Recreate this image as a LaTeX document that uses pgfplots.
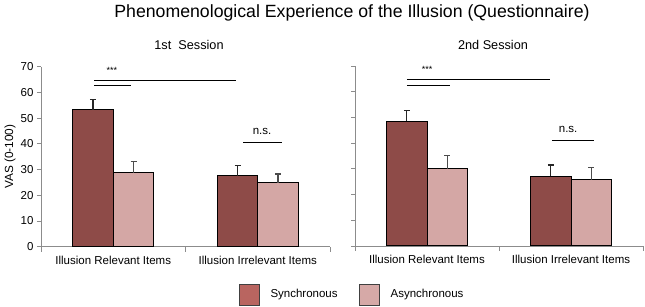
\documentclass[border=0pt]{standalone}
\usepackage{fontspec}
\setmainfont{Liberation Sans}
\usepackage{pgfplots}
\usepackage{pgfplotstable}
\pgfplotsset{compat=1.18}
\definecolor{syncc}{HTML}{8E4B48}
\definecolor{asyncc}{HTML}{D4A7A5}
\definecolor{syncleg}{HTML}{B96560}
\definecolor{asyncleg}{HTML}{D6A9A7}
\definecolor{axgray}{HTML}{8C8C8C}

% session 1
\pgfplotstableread{
x y e
0 53.2 4.1
1 27.6 3.9
}\sOneSync
\pgfplotstableread{
x y e
0 28.8 4.2
1 24.9 3.4
}\sOneAsync
% session 2
\pgfplotstableread{
x y e
0 48.6 4.0
1 27.1 4.4
}\sTwoSync
\pgfplotstableread{
x y e
0 30.0 5.1
1 25.8 4.7
}\sTwoAsync

\newcommand\lab{\fontsize{11.5bp}{13bp}\selectfont}

\pgfplotsset{
  panel/.style={
    scale only axis, width=289bp, height=180bp,
    ymin=0, ymax=70, xmin=-0.5, xmax=1.5,
    ytick={0,10,...,70},
    xtick={0,1},
    xticklabels={Illusion Relevant Items, Illusion Irrelevant Items},
    major x tick style={draw=none},
    extra x ticks={-0.5,0.5,1.5},
    extra x tick labels={},
    extra x tick style={major tick length=5bp, major x tick style={draw=axgray, line width=0.8bp}},
    axis x line*=bottom, axis y line*=left,
    axis line style={draw=axgray, line width=0.8bp},
    tick align=outside, major tick length=4bp,
    major y tick style={draw=axgray, line width=0.8bp},
    /pgf/number format/assume math mode=true,
    tick label style={font=\lab},
    xticklabel style={yshift=-2bp},
    ybar=0pt, bar width=40.5bp,
    clip=false,
  },
  syncbar/.style={fill=syncc, draw=black, line width=1bp, bar shift=-20.25bp,
    error bars/.cd, y dir=plus, y explicit,
    error bar style={line width=1.2bp, draw=black!85},
    error mark options={rotate=90, mark size=3bp, line width=1.2bp, draw=black!85},
    /pgfplots/.cd},
  asyncbar/.style={fill=asyncc, draw=black, line width=1bp, bar shift=20.25bp,
    error bars/.cd, y dir=plus, y explicit,
    error bar style={line width=1.2bp, draw=black!70},
    error mark options={rotate=90, mark size=3bp, line width=1.2bp, draw=black!70},
    /pgfplots/.cd},
}

\begin{document}
\begin{tikzpicture}
\useasboundingbox (0,0) rectangle (645bp,307bp);

% titles
\node[anchor=base, font=\fontsize{17.7bp}{20bp}\selectfont] at (352bp,289bp) {Phenomenological Experience of the Illusion (Questionnaire)};
\node[anchor=base, font=\fontsize{12.7bp}{15bp}\selectfont] at (189bp,257bp) {1st\ \ Session};
\node[anchor=base, font=\fontsize{12.7bp}{15bp}\selectfont] at (493bp,257.5bp) {2nd Session};

\begin{axis}[panel, at={(41bp,60.3bp)}, anchor=south west,
  ylabel={VAS (0-100)},
  every axis y label/.style={at={(axis description cs:-0.107,0.5)}, rotate=90, anchor=center, font=\fontsize{11.8bp}{13bp}\selectfont},
  legend columns=2,
  legend style={at={(axis description cs:1.0727,-0.2656)}, anchor=center, draw=none, fill=none,
    font=\lab, nodes={inner sep=0pt},
    /tikz/every odd column/.append style={column sep=11bp},
    /tikz/every even column/.append style={column sep=21bp}},
]
\addplot[forget plot, syncbar] table[x=x, y=y, y error=e] {\sOneSync};
\addplot[forget plot, asyncbar] table[x=x, y=y, y error=e] {\sOneAsync};
\draw[line width=1bp] (-0.133,64.6) -- (0.849,64.6);
\draw[line width=1bp] (-0.133,62.5) -- (0.123,62.5);
\node[font=\fontsize{9bp}{10bp}\selectfont] at (-0.01,68.7) {***};
\draw[line width=1bp] (0.898,40.4) -- (1.168,40.4);
\node[font=\lab] at (1.03,44.9) {n.s.};
\addlegendimage{legend image code/.code={\draw[fill=syncleg, draw=black!75, line width=1bp] (0bp,-10.5bp) rectangle (20bp,10.5bp);}}
\addlegendentry{Synchronous}
\addlegendimage{legend image code/.code={\draw[fill=asyncleg, draw=black!75, line width=1bp] (0bp,-10.5bp) rectangle (20bp,10.5bp);}}
\addlegendentry{Asynchronous}
\end{axis}

\begin{axis}[panel, width=288bp, at={(355bp,61bp)}, anchor=south west,
  yticklabels={}]
\addplot[syncbar] table[x=x, y=y, y error=e] {\sTwoSync};
\addplot[asyncbar] table[x=x, y=y, y error=e] {\sTwoAsync};
\draw[line width=1bp] (-0.139,64.6) -- (0.854,64.6);
\draw[line width=1bp] (-0.139,62.3) -- (0.16,62.3);
\node[font=\fontsize{9bp}{10bp}\selectfont] at (0.0,68.5) {***};
\draw[line width=1bp] (0.868,40.9) -- (1.16,40.9);
\node[font=\lab] at (0.98,45.2) {n.s.};
\end{axis}
\end{tikzpicture}
\end{document}
